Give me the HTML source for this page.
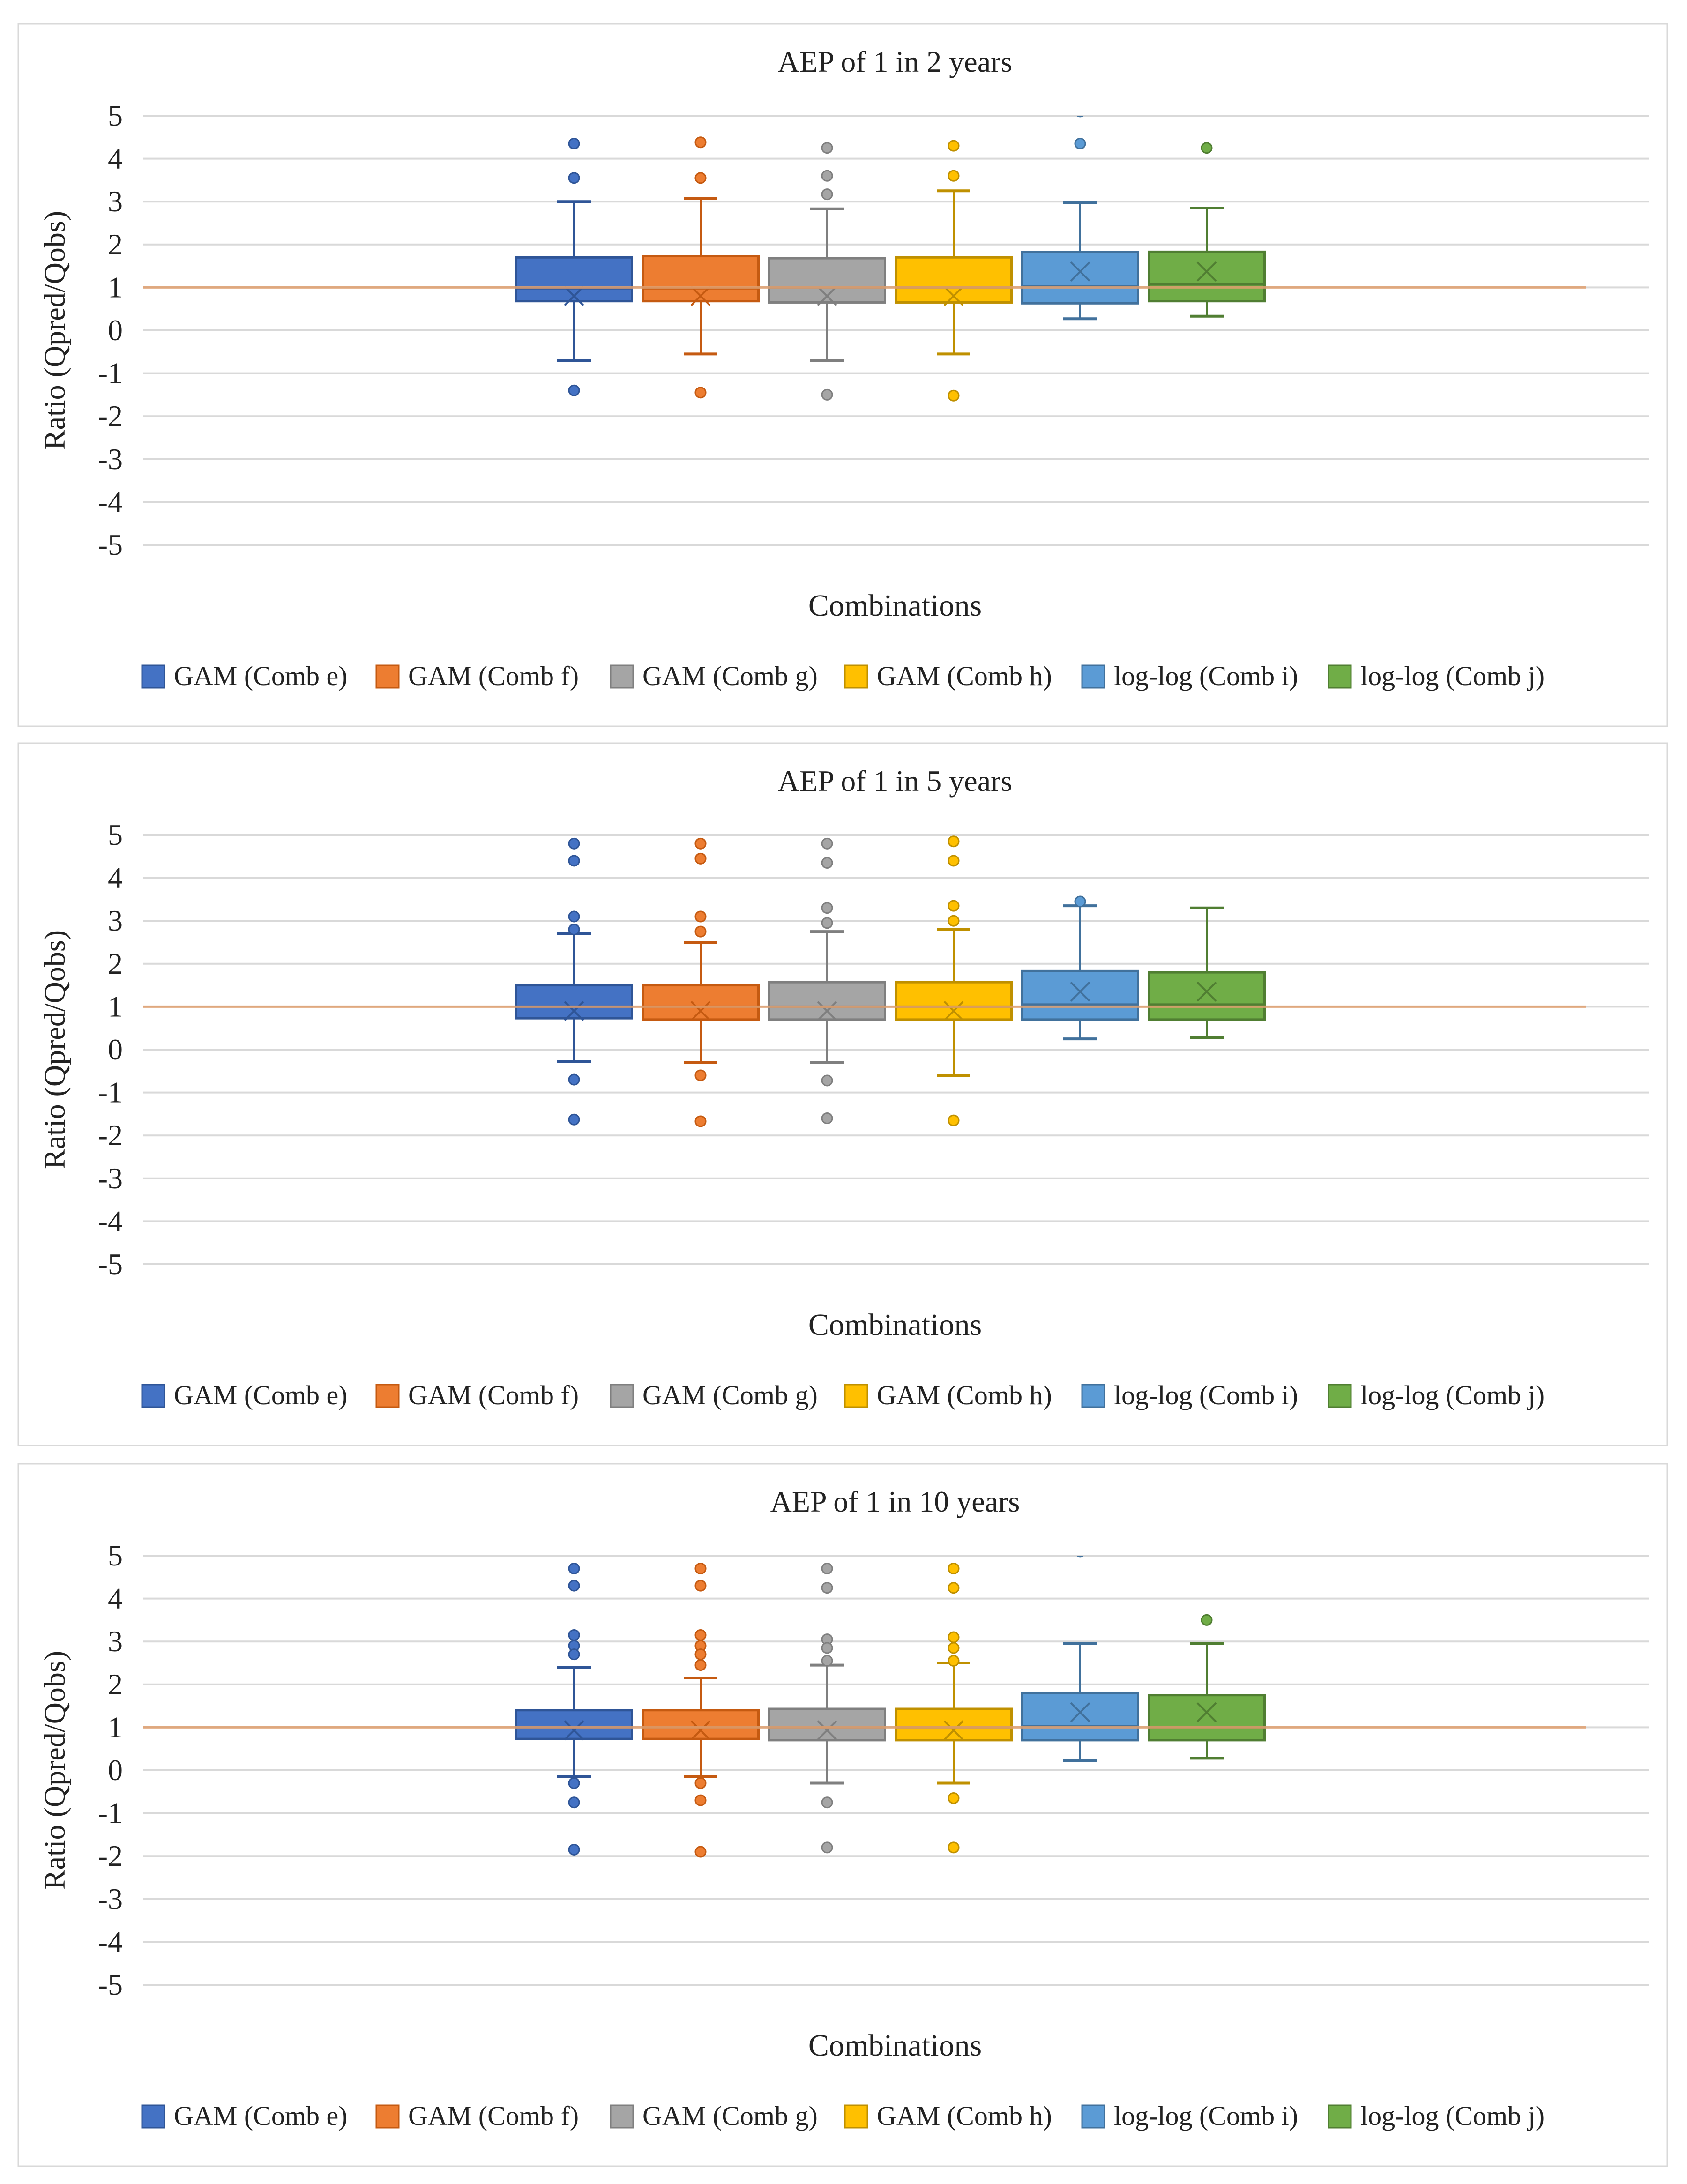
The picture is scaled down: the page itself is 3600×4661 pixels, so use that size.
<!DOCTYPE html>
<html><head><meta charset="utf-8"><style>
body{margin:0;background:#fff;}
svg{display:block;font-family:"Liberation Serif",serif;}
</style></head><body>
<svg id="c" width="3600" height="4661" viewBox="0 0 3600 4661"></svg>
<script>
const seriesNames=["GAM (Comb e)","GAM (Comb f)","GAM (Comb g)","GAM (Comb h)","log-log (Comb i)","log-log (Comb j)"];
const panelTitles=["AEP of 1 in 2 years","AEP of 1 in 5 years","AEP of 1 in 10 years"];
const tickLabels=[5,4,3,2,1,0,-1,-2,-3,-4,-5];
const refValue=1;
// [min, q1, median, q3, max, mean] for each panel/series
const stats1=[[-0.7,0.68,0.98,1.7,3.0,0.8],[-0.55,0.68,0.98,1.73,3.07,0.8],[-0.7,0.65,1.0,1.68,2.83,0.8],[-0.55,0.65,1.0,1.7,3.25,0.8],[0.27,0.63,1.03,1.82,2.97,1.37],[0.33,0.68,1.07,1.83,2.85,1.37]];
const stats2=[[-0.28,0.73,1.0,1.5,2.7,0.9],[-0.3,0.7,1.0,1.5,2.5,0.9],[-0.3,0.7,1.0,1.57,2.75,0.9],[-0.6,0.7,1.0,1.57,2.8,0.9],[0.25,0.7,1.05,1.83,3.35,1.35],[0.28,0.7,1.05,1.8,3.3,1.35]];
const stats3=[[-0.15,0.73,1.0,1.4,2.4,0.93],[-0.15,0.73,1.0,1.4,2.15,0.93],[-0.3,0.7,1.0,1.43,2.45,0.93],[-0.3,0.7,1.0,1.43,2.5,0.93],[0.22,0.7,1.03,1.8,2.95,1.35],[0.28,0.7,1.0,1.75,2.95,1.35]];
const outliers1=[[4.35,3.55,-1.4],[4.38,3.55,-1.45],[4.25,3.6,3.17,-1.5],[4.3,3.6,-1.52],[4.35,5.1],[4.25]];
const outliers2=[[4.8,4.4,3.1,2.8,-0.7,-1.63],[4.8,4.45,3.1,2.75,-0.6,-1.67],[4.8,4.35,3.3,2.95,-0.72,-1.6],[4.85,4.4,3.35,3.0,-1.65],[3.45],[]];
const outliers3=[[4.7,4.3,3.15,2.9,2.7,-0.3,-0.75,-1.85],[4.7,4.3,3.15,2.9,2.7,2.45,-0.3,-0.7,-1.9],[4.7,4.25,3.05,2.85,2.55,-0.75,-1.8],[4.7,4.25,3.1,2.85,2.55,-0.65,-1.8],[5.1],[3.5]];
const allStats=[stats1,stats2,stats3];
const allOut=[outliers1,outliers2,outliers3];
const fills=["#4472C4","#ED7D31","#A5A5A5","#FFC000","#5B9BD5","#70AD47"];
const strokes=["#2F5597","#C55A11","#7F7F7F","#BF9000","#41719C","#507E32"];
const offsets=[0,1535,3073];
const NS="http://www.w3.org/2000/svg";
const svg=document.getElementById('c');
function mk(tag,attrs,parent,text){const e=document.createElementNS(NS,tag);for(const k in attrs)e.setAttribute(k,attrs[k]);if(text!==undefined)e.textContent=text;(parent||svg).appendChild(e);return e;}
const defs=mk('defs',{});
const xLeft=306,xRight=3519,bw=247,x0=1225,dx=270;
function xPos(i){return x0+i*dx;}
panelTitles.forEach((t,p)=>{
  const off=offsets[p];
  const y=v=>off+247+(5-v)*91.6;
  const cp=mk('clipPath',{id:'clip'+p},defs);
  mk('rect',{x:xLeft,y:y(5),width:xRight-xLeft,height:y(-5)-y(5)+20},cp);
  const g=mk('g',{});
  
  
  const fr=mk('rect',{x:39,y:51+off,width:3519,height:1499,fill:'#fff',stroke:'#d9d9d9','stroke-width':3},g);
  
  const ti=mk('text',{x:1910,y:153+off,'font-size':64,'text-anchor':'middle',fill:'#222'},g,t);
  
  tickLabels.forEach(v=>{
    const gl=mk('line',{x1:xLeft,x2:xRight,y1:y(v),y2:y(v),stroke:'#d9d9d9','stroke-width':4},g);
    
    const tl=mk('text',{x:262,y:y(v)+21,'font-size':64,'text-anchor':'end',fill:'#222'},g,String(v));
    
  });
  const yt=mk('text',{x:0,y:0,'font-size':64,'text-anchor':'middle',fill:'#222',transform:`translate(138,${705+off}) rotate(-90)`},g,'Ratio (Qpred/Qobs)');
  
  const xt=mk('text',{x:1910,y:1314+off,'font-size':66,'text-anchor':'middle',fill:'#222'},g,'Combinations');
  
  const plot=mk('g',{'clip-path':`url(#clip${p})`},g);
  
  
  const st=allStats[p],ou=allOut[p];
  st.forEach((s,i)=>{
    const cx=xPos(i);
    const bg=mk('g',{},plot);
    
    
    mk('line',{x1:cx,x2:cx,y1:y(s[4]),y2:y(s[3]),stroke:strokes[i],'stroke-width':4},bg);
    mk('line',{x1:cx,x2:cx,y1:y(s[1]),y2:y(s[0]),stroke:strokes[i],'stroke-width':4},bg);
    mk('line',{x1:cx-36,x2:cx+36,y1:y(s[4]),y2:y(s[4]),stroke:strokes[i],'stroke-width':6},bg);
    mk('line',{x1:cx-36,x2:cx+36,y1:y(s[0]),y2:y(s[0]),stroke:strokes[i],'stroke-width':6},bg);
    mk('rect',{x:cx-bw/2,y:y(s[3]),width:bw,height:y(s[1])-y(s[3]),fill:fills[i],stroke:strokes[i],'stroke-width':5},bg);
    mk('line',{x1:cx-bw/2,x2:cx+bw/2,y1:y(s[2]),y2:y(s[2]),stroke:strokes[i],'stroke-width':5},bg);
    const my=y(s[5]);
    mk('path',{d:`M${cx-20} ${my-20}L${cx+20} ${my+20}M${cx+20} ${my-20}L${cx-20} ${my+20}`,stroke:strokes[i],'stroke-width':4,fill:'none'},bg);
    ou[i].forEach(v=>{
      const c=mk('circle',{cx:cx,cy:y(v),r:11,fill:fills[i],stroke:strokes[i],'stroke-width':3},bg);
      
      
    });
  });
  const rl=mk('line',{x1:xLeft,x2:3385,y1:y(refValue),y2:y(refValue),stroke:'#E0A070','stroke-width':5,opacity:0.85},g);
  
  const lx=[303,803,1303,1803,2309,2835];
  seriesNames.forEach((n,i)=>{
    const lg=mk('g',{},g);
    
    
    mk('rect',{x:lx[i],y:1420+off,width:48,height:48,fill:fills[i],stroke:strokes[i],'stroke-width':3},lg);
    mk('text',{x:lx[i]+68,y:1462+off,'font-size':58,fill:'#222'},lg,n);
  });
});
</script>
</body></html>
